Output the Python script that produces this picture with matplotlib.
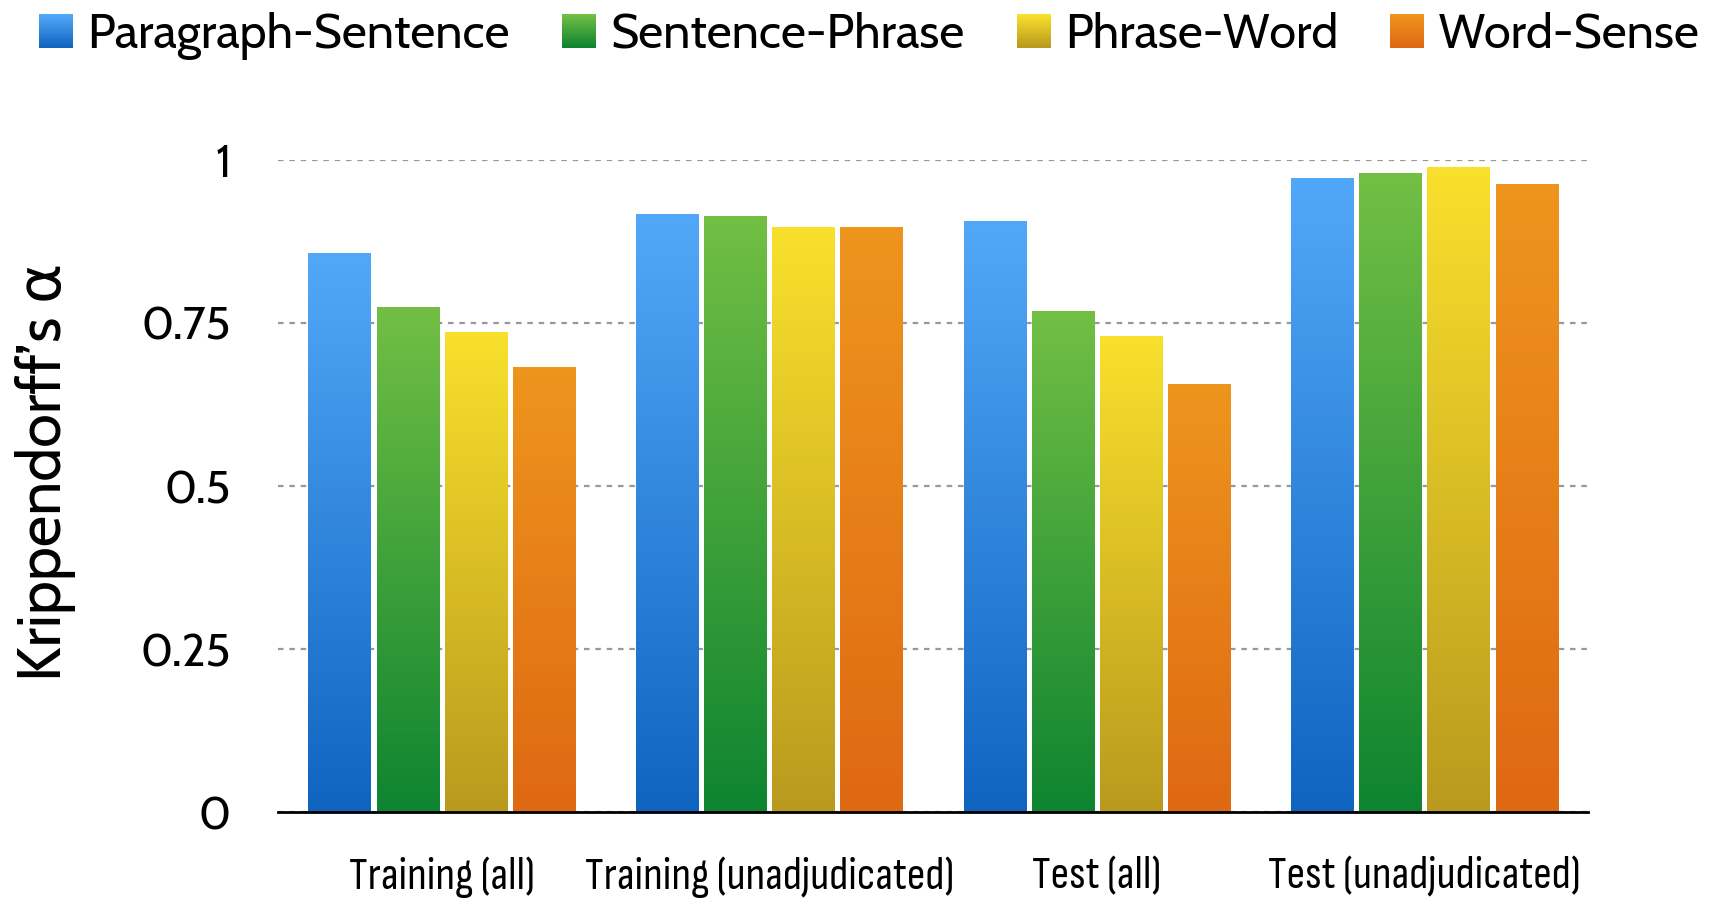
import numpy as np
import matplotlib
matplotlib.use("Agg")
import matplotlib.pyplot as plt
from matplotlib.colors import LinearSegmentedColormap
from matplotlib.legend_handler import HandlerBase
from matplotlib.patches import Rectangle

groups = ["Training (all)", "Training (unadjudicated)", "Test (all)", "Test (unadjudicated)"]
series = ["Paragraph-Sentence", "Sentence-Phrase", "Phrase-Word", "Word-Sense"]
par_sent = [0.856, 0.917, 0.905, 0.971]
sent_phr = [0.773, 0.914, 0.767, 0.980]
phr_word = [0.735, 0.896, 0.730, 0.989]
word_sense = [0.681, 0.896, 0.655, 0.963]
values = [par_sent, sent_phr, phr_word, word_sense]

# top / bottom gradient colours
tops = ["#52a8f8", "#72bf44", "#f9e02c", "#ee951e"]
bottoms = ["#0f64c0", "#0e8430", "#ba9a1e", "#df6812"]

plt.rcParams['font.family'] = ['Cabin', 'DejaVu Sans']

fig = plt.figure(figsize=(17.32, 9.08), dpi=100)
ax = fig.add_axes([0.1605, 0.1057, 0.7565, 0.7181])

x = np.arange(len(groups))
step = 0.208
width = 0.19
grad = np.linspace(1, 0, 256).reshape(-1, 1)

for i, vals in enumerate(values):
    cmap = LinearSegmentedColormap.from_list("g%d" % i, [bottoms[i], tops[i]])
    bars = ax.bar(x + (i - 1.5) * step, vals, width, color="none", zorder=3)
    for b in bars:
        x0, y0 = b.get_x(), b.get_y()
        w, h = b.get_width(), b.get_height()
        ax.imshow(grad, cmap=cmap, aspect="auto", extent=(x0, x0 + w, y0, y0 + h),
                  zorder=3, vmin=0, vmax=1)

ax.set_xlim(-0.5, 3.5)
ax.set_ylim(0, 1)
ax.set_yticks([0, 0.25, 0.5, 0.75, 1])
ax.set_yticklabels(["0", "0.25", "0.5", "0.75", "1"])
ax.yaxis.grid(True, color="#999999", linestyle=(0, (2.5, 2.6)), linewidth=1.6, zorder=0)
ax.set_axisbelow(True)
for s in ["top", "right", "left"]:
    ax.spines[s].set_visible(False)
ax.spines["bottom"].set_linewidth(2)
ax.spines["bottom"].set_zorder(4)
ax.tick_params(axis="y", length=0, pad=34, labelsize=33)
ax.tick_params(axis="x", length=0, pad=32)
ax.set_xticks(x)
ax.set_xticklabels(groups, fontsize=33, fontweight="medium",
                   family=['Sofia Sans Condensed', 'DejaVu Sans'])

fig.text(0.0265, 0.48, "Krippendorff\u2019s \u03b1", rotation=90, fontsize=44,
         ha="center", va="center")


class GradHandler(HandlerBase):
    def create_artists(self, legend, orig_handle, xdescent, ydescent, width, height, fontsize, trans):
        i = orig_handle
        cmap = LinearSegmentedColormap.from_list("l", [bottoms[i], tops[i]])
        n = 20
        side = height * 1.0
        y0 = -ydescent + (height - side) / 2
        x0 = -xdescent + (width - side)
        arts = []
        for k in range(n):
            r = Rectangle((x0, y0 + side * k / n), side, side / n + 0.3,
                          facecolor=cmap(k / (n - 1)), edgecolor="none", transform=trans)
            arts.append(r)
        return arts


handles = [0, 1, 2, 3]
hmap = {h: GradHandler() for h in handles}
fig.legend(handles, series, handler_map=hmap, loc="upper center", ncol=4,
           bbox_to_anchor=(0.503, 1.035), frameon=False, fontsize=35,
           handlelength=0.62, handletextpad=0.3, columnspacing=1.15)

fig.savefig("out.png", dpi=100)
